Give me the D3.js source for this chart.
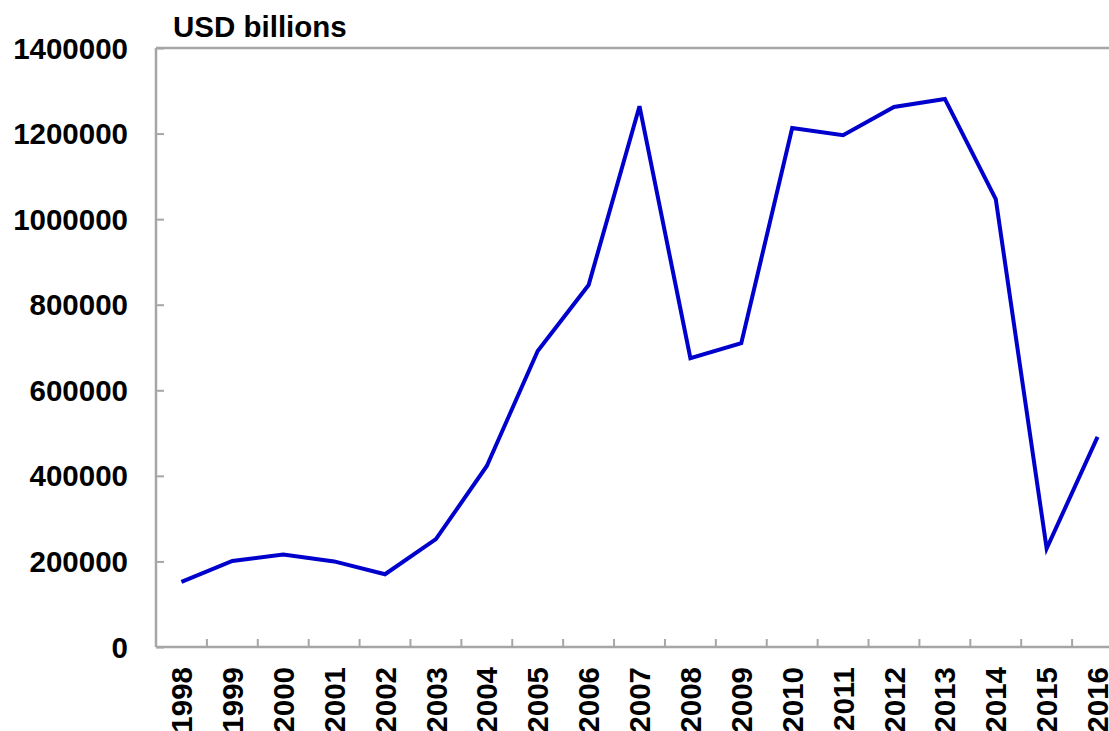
<!DOCTYPE html>
<html>
<head>
<meta charset="utf-8">
<script src="https://cdn.jsdelivr.net/npm/d3@7"></script>
<style>
  body { margin: 0; background: #fff; }
  text { font-family: "Liberation Sans", Arial, sans-serif; font-weight: bold; fill: #000; }
</style>
</head>
<body>
<div id="chart"></div>
<script>
var years = ["1998","1999","2000","2001","2002","2003","2004","2005","2006","2007",
             "2008","2009","2010","2011","2012","2013","2014","2015","2016"];
var values = [152000, 201000, 216000, 200000, 170000, 252000, 423000, 692000, 846000, 1264000,
              675000, 710000, 1213000, 1196000, 1262000, 1281000, 1047000, 230000, 491000];
var yTicks = [0, 200000, 400000, 600000, 800000, 1000000, 1200000, 1400000];
var unitLabel = "USD billions";

var margin = {top: 48, right: -14, bottom: 84, left: 156};
var W = 1109, H = 731;
var width = W - margin.left - margin.right;
var height = H - margin.top - margin.bottom;
var axisColor = "#a6a6a6";
var fontSize = "29.5px";

var svg = d3.select("#chart").append("svg")
            .attr("width", W)
            .attr("height", H);

var g = svg.append("g")
           .attr("transform", "translate(" + margin.left + "," + margin.top + ")");

var x = d3.scaleBand()
          .domain(years)
          .range([0, width])
          .padding(0);

var y = d3.scaleLinear()
          .domain([0, 1400000])
          .range([height, 0]);

// frame line at top
g.append("line")
 .attr("x1", 0).attr("x2", width)
 .attr("y1", 0).attr("y2", 0)
 .attr("stroke", axisColor)
 .attr("stroke-width", 2.5);

// y axis: ticks inside, labels to the left
var yAxis = g.append("g")
             .call(d3.axisRight(y).tickValues(yTicks).tickSize(8).tickFormat(""));
yAxis.select(".domain").remove();
yAxis.selectAll(".tick line").attr("stroke", axisColor).attr("stroke-width", 2);

g.append("line")
 .attr("x1", 0).attr("x2", 0)
 .attr("y1", 0).attr("y2", height)
 .attr("stroke", axisColor)
 .attr("stroke-width", 2.5);

g.append("g").selectAll("text")
 .data(yTicks)
 .enter().append("text")
 .attr("x", -28)
 .attr("y", (d) => y(d))
 .attr("dy", "0.36em")
 .attr("text-anchor", "end")
 .style("font-size", fontSize)
 .text((d) => d);

// x axis: ticks between categories, pointing up
var bounds = years.map((d) => x(d) + x.bandwidth());
g.append("g").selectAll("line")
 .data(bounds)
 .enter().append("line")
 .attr("x1", (d) => d).attr("x2", (d) => d)
 .attr("y1", height).attr("y2", height - 8)
 .attr("stroke", axisColor)
 .attr("stroke-width", 2);

g.append("line")
 .attr("x1", 0).attr("x2", width)
 .attr("y1", height).attr("y2", height)
 .attr("stroke", axisColor)
 .attr("stroke-width", 2.5);

g.append("g").selectAll("text")
 .data(years)
 .enter().append("text")
 .attr("transform", (d) => "translate(" + (x(d) + x.bandwidth() / 2) + "," + (height + 20) + ") rotate(-90)")
 .attr("dy", "0.36em")
 .attr("text-anchor", "end")
 .style("font-size", fontSize)
 .text((d) => d);

// series line
var line = d3.line()
             .x((d, i) => x(years[i]) + x.bandwidth() / 2)
             .y((d) => y(d));

g.append("path")
 .datum(values)
 .attr("d", line)
 .attr("fill", "none")
 .attr("stroke", "#0000cc")
 .attr("stroke-width", 4)
 .attr("stroke-linejoin", "miter");

// unit label
svg.append("text")
   .attr("x", 173)
   .attr("y", 37)
   .style("font-size", fontSize)
   .text(unitLabel);
</script>
</body>
</html>
